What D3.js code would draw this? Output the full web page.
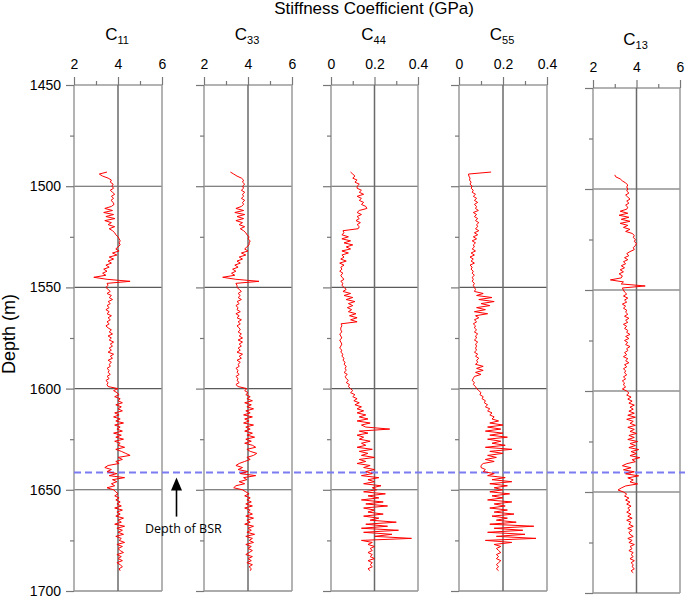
<!DOCTYPE html>
<html><head><meta charset="utf-8">
<script src="https://cdn.jsdelivr.net/npm/d3@7"></script>
<style>body{margin:0;background:#fff}svg{display:block}</style>
</head><body>
<svg id="chart" width="685" height="598"></svg>
<script>
// ---------------- data ----------------
const depthTicks = [1450, 1500, 1550, 1600, 1650, 1700];
const depthMinorTicks = [1475, 1525, 1575, 1625, 1675];
const panelSubs = ["11", "33", "44", "55", "13"];
const panelDomains = [[2, 6], [2, 6], [0, 0.4], [0, 0.4], [2, 6]];
const panelMajorTicks = [[2, 4, 6], [2, 4, 6], [0, 0.2, 0.4], [0, 0.2, 0.4], [2, 4, 6]];
const panelMinorTicks = [[3, 5], [3, 5], [0.1, 0.3], [0.1, 0.3], [3, 5]];
const panelTickLabels = [["2","4","6"], ["2","4","6"], ["0","0.2","0.4"], ["0","0.2","0.4"], ["2","4","6"]];
const bsrDepth = 1641.5;
const depthStart = 1493; // samples every 1 m, 1493 ... 1690

const c11 = [
 3.5, 3.15, 3.3, 3.55, 3.7, 3.65, 3.78, 3.72,
 3.8, 3.65, 3.75, 3.85, 3.7, 3.8, 3.68, 3.78, 3.82, 3.7,
 3.4, 3.75, 3.35, 3.8, 3.45, 3.86, 3.4, 3.7, 3.55, 3.85,
 3.6, 3.75, 3.85, 3.9, 4.0, 4.05, 4.1, 4.05, 4.1, 4.0,
 3.9, 4.05, 3.75, 3.95, 3.6, 3.8, 3.55, 3.7, 3.45, 3.6,
 3.35, 3.5, 3.3, 3.45, 2.9, 3.5, 4.55, 3.5, 3.55, 3.45,
 3.55, 3.65, 3.5, 3.7, 3.6, 3.75, 3.55, 3.65, 3.5, 3.6,
 3.45, 3.6, 3.5, 3.7, 3.55, 3.65, 3.5, 3.6, 3.45, 3.55,
 3.7, 3.6, 3.75, 3.55, 3.7, 3.6, 3.8, 3.65, 3.75, 3.6,
 3.7, 3.55, 3.8, 3.65, 3.75, 3.55, 3.7, 3.6, 3.65, 3.5,
 3.6, 3.55, 3.65, 3.5, 3.6, 3.45, 3.55, 3.5, 3.55, 4.0,
 3.8, 3.95, 4.05, 3.85, 4.1, 4.0, 4.2, 3.9, 4.15, 4.0,
 4.2, 3.85, 4.05, 3.8, 4.1, 3.9, 4.25, 3.85, 4.1, 3.95,
 4.2, 3.8, 4.15, 3.9, 4.25, 3.85, 4.1, 4.0, 4.3, 3.9,
 4.15, 4.35, 4.55, 4.0, 4.2, 3.9, 4.05, 3.55, 3.4, 3.7,
 3.5, 3.95, 3.6, 4.3, 3.75, 3.95, 3.7, 3.85, 3.5, 3.8,
 3.9, 4.0, 3.85, 4.05, 3.9, 4.1, 3.95, 4.15, 3.85, 4.2,
 3.95, 4.1, 3.9, 4.25, 4.0, 4.15, 3.85, 4.3, 3.95, 4.2,
 4.0, 4.25, 3.9, 4.15, 4.05, 4.3, 3.95, 4.2, 4.0, 4.1,
 4.25, 3.95, 4.15, 4.0, 4.2, 3.95, 4.1, 4.2, 4.05, 4.1
];
const c33 = [
 3.2, 3.35, 3.5, 3.7, 3.8, 3.75, 3.85, 3.75,
 3.8, 3.7, 3.85, 3.75, 3.8, 3.7, 3.85, 3.75, 3.8, 3.7,
 3.45, 3.8, 3.4, 3.85, 3.5, 3.8, 3.45, 3.75, 3.6, 3.85,
 3.65, 3.8, 3.9, 3.95, 4.05, 4.0, 4.1, 4.05, 4.05, 3.95,
 3.85, 4.0, 3.7, 3.9, 3.6, 3.75, 3.5, 3.65, 3.4, 3.55,
 3.3, 3.45, 3.25, 3.4, 2.85, 3.45, 4.5, 3.45, 3.5, 3.5,
 3.6, 3.7, 3.55, 3.65, 3.55, 3.7, 3.5, 3.6, 3.45, 3.55,
 3.5, 3.65, 3.45, 3.6, 3.5, 3.7, 3.55, 3.65, 3.5, 3.6,
 3.65, 3.55, 3.7, 3.6, 3.75, 3.55, 3.75, 3.6, 3.7, 3.55,
 3.65, 3.5, 3.75, 3.6, 3.7, 3.5, 3.65, 3.55, 3.6, 3.45,
 3.55, 3.5, 3.6, 3.45, 3.55, 3.5, 3.6, 3.45, 3.55, 3.95,
 3.85, 4.0, 3.9, 4.1, 3.95, 4.2, 3.85, 4.15, 3.95, 4.25,
 3.9, 4.1, 3.8, 4.2, 3.85, 4.05, 3.8, 4.25, 3.9, 4.1,
 3.85, 4.2, 3.95, 4.3, 3.9, 4.15, 3.85, 4.2, 4.35, 3.95,
 4.1, 4.4, 4.25, 3.95, 4.1, 3.85, 3.6, 3.45, 3.75, 3.55,
 4.0, 3.65, 4.35, 3.8, 3.95, 3.6, 3.85, 3.45, 3.35, 3.75,
 3.9, 4.05, 3.85, 4.1, 3.95, 4.15, 3.9, 4.2, 3.85, 4.1,
 4.0, 4.2, 3.9, 4.25, 3.95, 4.1, 3.85, 4.25, 4.0, 4.15,
 3.95, 4.3, 3.9, 4.2, 4.05, 4.25, 3.9, 4.15, 4.0, 4.2,
 4.05, 3.9, 4.2, 4.0, 4.15, 3.95, 4.2, 4.05, 4.15, 4.1
];
const c44 = [
 0.09, 0.1, 0.11, 0.1, 0.12, 0.11, 0.13, 0.12,
 0.12, 0.14, 0.13, 0.15, 0.12, 0.14, 0.13, 0.15, 0.14, 0.16,
 0.165, 0.13, 0.12, 0.14, 0.12, 0.13, 0.115, 0.135, 0.12, 0.13,
 0.125, 0.055, 0.06, 0.05, 0.08, 0.05, 0.09, 0.06, 0.1, 0.07,
 0.09, 0.05, 0.08, 0.05, 0.06, 0.045, 0.07, 0.04, 0.06, 0.045,
 0.05, 0.04, 0.055, 0.045, 0.05, 0.06, 0.045, 0.055, 0.05, 0.06,
 0.07, 0.055, 0.09, 0.06, 0.1, 0.07, 0.11, 0.08, 0.1, 0.075,
 0.095, 0.08, 0.115, 0.085, 0.12, 0.09, 0.12, 0.046, 0.05, 0.045,
 0.045, 0.05, 0.04, 0.045, 0.05, 0.04, 0.045, 0.05, 0.045, 0.04,
 0.05, 0.045, 0.055, 0.05, 0.06, 0.055, 0.065, 0.06, 0.07, 0.065,
 0.07, 0.06, 0.075, 0.065, 0.07, 0.08, 0.07, 0.085, 0.08, 0.09,
 0.1, 0.09, 0.11, 0.1, 0.12, 0.105, 0.13, 0.11, 0.14, 0.12,
 0.15, 0.12, 0.16, 0.13, 0.17, 0.12, 0.18, 0.14, 0.16, 0.27,
 0.13, 0.17, 0.12, 0.15, 0.13, 0.18, 0.14, 0.16, 0.12, 0.19,
 0.13, 0.17, 0.14, 0.2, 0.13, 0.16, 0.12, 0.18, 0.15, 0.2,
 0.16, 0.19, 0.14, 0.22, 0.17, 0.2, 0.15, 0.23, 0.19, 0.21,
 0.15, 0.25, 0.17, 0.22, 0.14, 0.24, 0.16, 0.26, 0.15, 0.2,
 0.17, 0.24, 0.15, 0.22, 0.18, 0.3, 0.16, 0.26, 0.14, 0.31,
 0.15, 0.28, 0.2, 0.37, 0.14, 0.19, 0.17, 0.2, 0.18, 0.19,
 0.17, 0.19, 0.18, 0.2, 0.17, 0.19, 0.18, 0.19, 0.17, 0.18
];
const c55 = [
 0.146, 0.043, 0.045, 0.05, 0.048, 0.055, 0.05, 0.06,
 0.055, 0.065, 0.06, 0.075, 0.065, 0.08, 0.07, 0.085, 0.07, 0.08,
 0.075, 0.088, 0.065, 0.08, 0.07, 0.085, 0.075, 0.09, 0.08, 0.085,
 0.075, 0.09, 0.07, 0.085, 0.065, 0.08, 0.06, 0.075, 0.065, 0.07,
 0.06, 0.075, 0.055, 0.07, 0.05, 0.065, 0.055, 0.07, 0.05, 0.06,
 0.055, 0.065, 0.06, 0.07, 0.06, 0.065, 0.06, 0.07, 0.065, 0.07,
 0.075, 0.07, 0.11, 0.08, 0.15, 0.09, 0.16, 0.1, 0.14, 0.08,
 0.12, 0.07, 0.13, 0.075, 0.09, 0.07, 0.08, 0.065, 0.075, 0.07,
 0.08, 0.07, 0.085, 0.075, 0.08, 0.07, 0.085, 0.075, 0.08, 0.075,
 0.08, 0.07, 0.085, 0.075, 0.09, 0.08, 0.085, 0.075, 0.11, 0.08,
 0.11, 0.075, 0.1, 0.07, 0.065, 0.06, 0.07, 0.065, 0.075, 0.08,
 0.09, 0.1, 0.095, 0.11, 0.105, 0.12, 0.115, 0.13, 0.12, 0.14,
 0.13, 0.15, 0.14, 0.16, 0.15, 0.18, 0.14, 0.2, 0.13, 0.19,
 0.12, 0.2, 0.14, 0.22, 0.13, 0.19, 0.15, 0.21, 0.12, 0.24,
 0.14, 0.2, 0.13, 0.17, 0.12, 0.16, 0.11, 0.1, 0.1, 0.12,
 0.11, 0.16, 0.13, 0.21, 0.15, 0.24, 0.14, 0.22, 0.16, 0.2,
 0.14, 0.23, 0.15, 0.2, 0.13, 0.24, 0.16, 0.21, 0.14, 0.22,
 0.16, 0.25, 0.15, 0.22, 0.17, 0.26, 0.14, 0.34, 0.16, 0.29,
 0.13, 0.3, 0.17, 0.35, 0.12, 0.24, 0.16, 0.19, 0.17, 0.18,
 0.19, 0.17, 0.18, 0.17, 0.19, 0.18, 0.17, 0.18, 0.17, 0.18
];
const c13 = [
 3.0, 3.05, 3.25, 3.35, 3.5, 3.6, 3.55, 3.6,
 3.55, 3.65, 3.5, 3.6, 3.7, 3.55, 3.65, 3.5, 3.6, 3.55,
 3.25, 3.6, 3.2, 3.65, 3.3, 3.7, 3.25, 3.6, 3.4, 3.7,
 3.5, 3.8, 3.9, 3.85, 3.95, 3.9, 4.0, 3.95, 3.85, 3.9,
 3.7, 3.55, 3.65, 3.45, 3.6, 3.4, 3.5, 3.3, 3.45, 3.25,
 3.4, 3.2, 3.35, 3.3, 2.8, 3.4, 3.3, 4.4, 3.35, 3.4,
 3.45, 3.55, 3.4, 3.6, 3.45, 3.55, 3.35, 3.5, 3.4, 3.55,
 3.5, 3.6, 3.45, 3.65, 3.5, 3.6, 3.4, 3.55, 3.45, 3.6,
 3.55, 3.7, 3.5, 3.65, 3.45, 3.6, 3.5, 3.7, 3.55, 3.6,
 3.45, 3.55, 3.4, 3.6, 3.5, 3.65, 3.45, 3.55, 3.4, 3.5,
 3.45, 3.55, 3.4, 3.5, 3.35, 3.45, 3.4, 3.5, 3.35, 3.55,
 3.65, 3.55, 3.75, 3.6, 3.8, 3.65, 3.9, 3.7, 3.85, 3.65,
 3.9, 3.6, 3.95, 3.55, 3.85, 3.7, 3.95, 3.6, 3.9, 3.7,
 4.0, 3.65, 3.9, 3.6, 4.05, 3.7, 3.95, 3.65, 4.1, 3.75,
 4.0, 3.7, 4.15, 3.8, 3.95, 3.55, 3.35, 3.75, 3.4, 3.9,
 3.5, 4.1, 3.6, 3.85, 3.7, 4.05, 3.5, 3.3, 3.15, 3.4,
 3.55, 3.45, 3.65, 3.5, 3.7, 3.55, 3.75, 3.6, 3.7, 3.55,
 3.75, 3.6, 3.8, 3.55, 3.75, 3.65, 3.85, 3.6, 3.8, 3.65,
 3.7, 3.85, 3.6, 3.8, 3.65, 3.9, 3.7, 3.8, 3.65, 3.85,
 3.75, 3.85, 3.7, 3.9, 3.75, 3.85, 3.8, 3.9, 3.75, 3.85
];
const seriesList = [c11, c33, c44, c55, c13];

// ---------------- layout ----------------
const FONT = "'Liberation Sans', Arial, sans-serif";
const geom = [
  {x0: 74,  x1: 162, y0: 85, y1: 591, titleY: 40, labelY: 69},
  {x0: 204, x1: 292, y0: 85, y1: 591, titleY: 40, labelY: 69},
  {x0: 331, x1: 418, y0: 85, y1: 591, titleY: 40, labelY: 69},
  {x0: 459, x1: 547, y0: 85, y1: 591, titleY: 40, labelY: 69},
  {x0: 593, x1: 680, y0: 88, y1: 593, titleY: 45, labelY: 72}
];

const svg = d3.select("#chart");
svg.append("rect").attr("width", 685).attr("height", 598).attr("fill", "#fff");

// main title
svg.append("text").attr("x", 374).attr("y", 14).attr("text-anchor", "middle")
  .attr("font-family", FONT).attr("font-size", 17).attr("fill", "#000")
  .text("Stiffness Coefficient (GPa)");

// y axis title
svg.append("text").attr("transform", "translate(15,334) rotate(-90)")
  .attr("text-anchor", "middle").attr("font-family", FONT).attr("font-size", 18)
  .attr("fill", "#000").text("Depth (m)");

const gridLayer = svg.append("g");
const bsrLayer = svg.append("g");
const curveLayer = svg.append("g");

const yScales = [];
geom.forEach((g, i) => {
  const x = d3.scaleLinear().domain(panelDomains[i]).range([g.x0, g.x1]);
  const y = d3.scaleLinear().domain([depthTicks[0], depthTicks[depthTicks.length - 1]]).range([g.y0, g.y1]);
  yScales.push(y);
  const p = gridLayer.append("g");

  // horizontal grid lines (incl. top & bottom borders)
  p.selectAll("line.h").data(depthTicks).join("line").attr("class", "h")
    .attr("x1", g.x0).attr("x2", g.x1).attr("y1", d => y(d)).attr("y2", d => y(d))
    .attr("stroke", (d, k) => (k === 0 ? "#9a9a9a" : "#5a5a5a"))
    .attr("stroke-width", (d, k) => (k === 0 ? 1.6 : 1.1));

  // vertical grid lines
  p.selectAll("line.v").data(panelMajorTicks[i]).join("line").attr("class", "v")
    .attr("x1", d => x(d)).attr("x2", d => x(d)).attr("y1", g.y0).attr("y2", g.y1)
    .attr("stroke", (d, k) => (k === 1 ? "#6a6a6a" : "#9a9a9a"))
    .attr("stroke-width", 1.5);

  // left axis: major ticks
  const yAxis = d3.axisLeft(y).tickValues(depthTicks).tickSize(8).tickPadding(5)
    .tickFormat(i === 0 ? d3.format("d") : () => "");
  const ya = p.append("g").attr("transform", `translate(${g.x0},0)`).call(yAxis);
  ya.select(".domain").remove();
  ya.selectAll(".tick line").attr("stroke", "#777").attr("stroke-width", 1.2);
  ya.selectAll(".tick text").attr("font-family", FONT).attr("font-size", 14).attr("fill", "#000");

  // left axis: minor ticks
  const yMinor = d3.axisLeft(y).tickValues(depthMinorTicks).tickSize(4).tickFormat(() => "");
  const ym = p.append("g").attr("transform", `translate(${g.x0},0)`).call(yMinor);
  ym.select(".domain").remove();
  ym.selectAll(".tick line").attr("stroke", "#777").attr("stroke-width", 1.2);

  // top axis: major
  const xAxis = d3.axisTop(x).tickValues(panelMajorTicks[i]).tickSize(8).tickPadding(8)
    .tickFormat((d, k) => panelTickLabels[i][k]);
  const xa = p.append("g").attr("transform", `translate(0,${g.y0})`).call(xAxis);
  xa.select(".domain").remove();
  xa.selectAll(".tick line").attr("stroke", "#777").attr("stroke-width", 1.2);
  xa.selectAll(".tick text").attr("font-family", FONT).attr("font-size", 14).attr("fill", "#000")
    .attr("transform", `translate(0,${g.labelY - (g.y0 - 16)})`);

  // top axis: minor
  const xMinor = d3.axisTop(x).tickValues(panelMinorTicks[i]).tickSize(4).tickFormat(() => "");
  const xm = p.append("g").attr("transform", `translate(0,${g.y0})`).call(xMinor);
  xm.select(".domain").remove();
  xm.selectAll(".tick line").attr("stroke", "#777").attr("stroke-width", 1.2);

  // panel title C_xx
  const t = p.append("text").attr("x", (g.x0 + g.x1) / 2 - 1).attr("y", g.titleY)
    .attr("text-anchor", "middle").attr("font-family", FONT).attr("fill", "#000");
  t.append("tspan").attr("font-size", 17).text("C");
  t.append("tspan").attr("font-size", 11).attr("dy", 4).text(panelSubs[i]);

  // curve
  const vals = seriesList[i];
  const pts = vals.map((v, k) => ({d: depthStart + k, v}));
  const line = d3.line().x(p => x(p.v)).y(p => y(p.d));
  curveLayer.append("path").datum(pts).attr("d", line)
    .attr("fill", "none").attr("stroke", "#ff0000").attr("stroke-width", 1)
    .attr("stroke-linejoin", "round");
});

// BSR dashed line
const yB = yScales[0];
bsrLayer.append("line").attr("x1", 74).attr("x2", 685)
  .attr("y1", yB(bsrDepth)).attr("y2", yB(bsrDepth))
  .attr("stroke", "#7b7bf2").attr("stroke-width", 2).attr("stroke-dasharray", "7,4");

// arrow + label
const ax = 176.5;
svg.append("line").attr("x1", ax).attr("x2", ax).attr("y1", yB(bsrDepth) + 44).attr("y2", yB(bsrDepth) + 16)
  .attr("stroke", "#000").attr("stroke-width", 1.6);
svg.append("path")
  .attr("d", `M${ax},${yB(bsrDepth) + 5} L${ax - 5.5},${yB(bsrDepth) + 18} L${ax + 5.5},${yB(bsrDepth) + 18} Z`)
  .attr("fill", "#000");
svg.append("text").attr("x", 145).attr("y", yB(bsrDepth) + 60)
  .attr("font-family", "'Open Sans', 'Liberation Sans', sans-serif").attr("font-size", 12.5)
  .attr("fill", "#000").text("Depth of BSR");
</script>
</body></html>
